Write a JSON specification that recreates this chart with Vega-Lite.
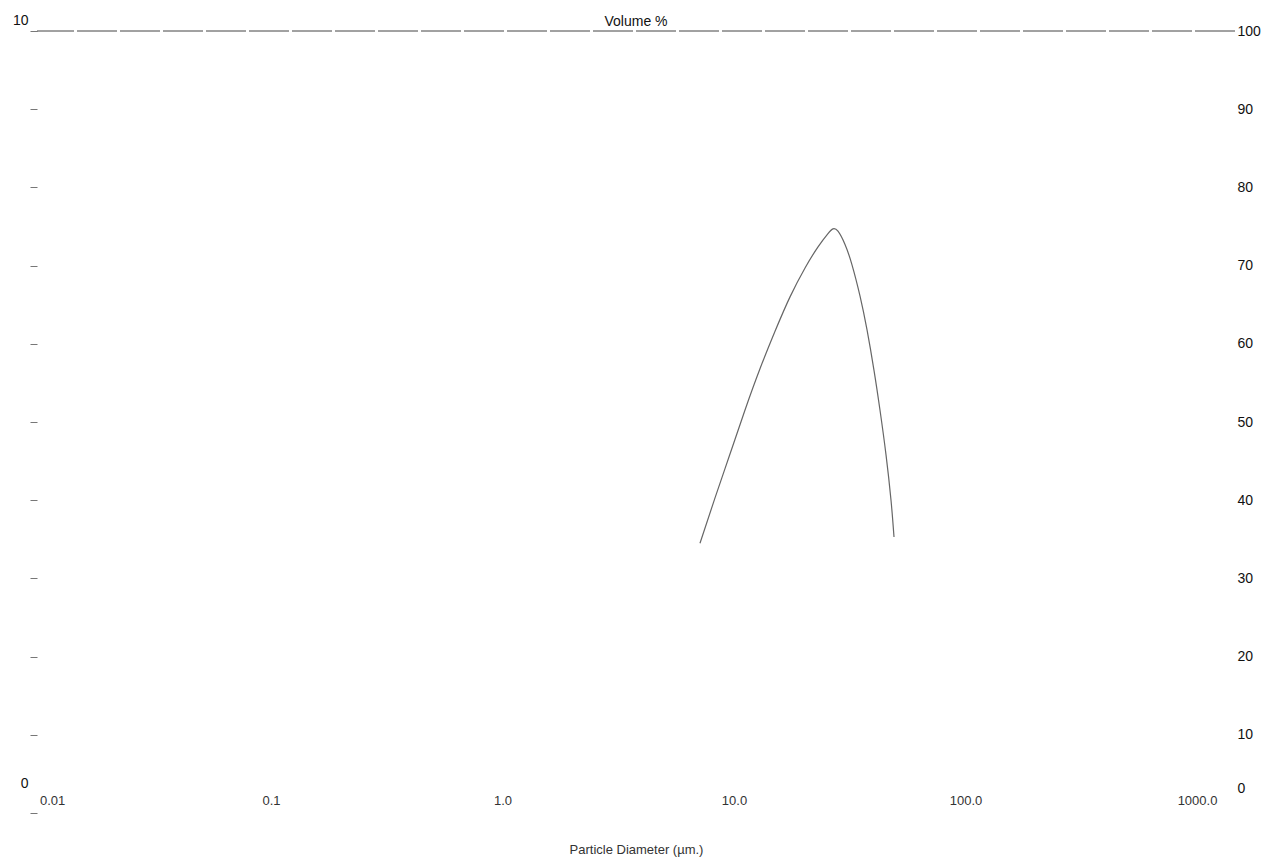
{
  "$schema": "https://vega.github.io/schema/vega-lite/v6.json",
  "width": 1198,
  "height": 782,
  "autosize": {"type": "none"},
  "padding": {"left": 37, "top": 31, "right": 32, "bottom": 49},
  "background": "white",
  "config": {"view": {"stroke": null}, "font": "Liberation Sans"},
  "title": {"text": "Volume %", "fontSize": 14, "fontWeight": "normal", "color": "#111", "anchor": "middle", "offset": -16, "font": "Liberation Sans"},
  "layer": [
    {
      "data": {"values": [
        {"d": 7.13, "v": 3.45},
        {"d": 8.28, "v": 4.03},
        {"d": 9.61, "v": 4.59},
        {"d": 11.15, "v": 5.15},
        {"d": 12.95, "v": 5.68},
        {"d": 15.04, "v": 6.16},
        {"d": 17.46, "v": 6.60},
        {"d": 20.27, "v": 6.97},
        {"d": 23.07, "v": 7.24},
        {"d": 25.47, "v": 7.41},
        {"d": 26.77, "v": 7.47},
        {"d": 28.13, "v": 7.44},
        {"d": 30.17, "v": 7.27},
        {"d": 32.34, "v": 7.01},
        {"d": 35.03, "v": 6.61},
        {"d": 37.54, "v": 6.18},
        {"d": 40.25, "v": 5.66},
        {"d": 42.73, "v": 5.15},
        {"d": 45.36, "v": 4.58},
        {"d": 47.67, "v": 4.00},
        {"d": 49.11, "v": 3.53}
      ]},
      "mark": {"type": "line", "color": "#666", "strokeWidth": 1.2, "interpolate": "natural"},
      "encoding": {
        "x": {
          "field": "d", "type": "quantitative",
          "scale": {"type": "log", "domain": [0.00976, 1459], "nice": false},
          "axis": {
            "values": [0.01, 0.1, 1, 10, 100, 1000],
            "labelExpr": "datum.value < 0.05 ? '0.01' : datum.value < 0.5 ? '0.1' : format(datum.value, '.1f')",
            "domain": false, "ticks": false, "grid": false, "labelFlush": 5,
            "labelPadding": -19, "labelFontSize": 13, "labelColor": "#333",
            "title": "Particle Diameter (µm.)", "titleFontSize": 13, "titleFontWeight": "normal",
            "titleColor": "#333", "titlePadding": 30
          }
        },
        "y": {
          "field": "v", "type": "quantitative",
          "scale": {"domain": [0, 10], "nice": false},
          "axis": {
            "orient": "left", "values": [0, 1, 2, 3, 4, 5, 6, 7, 8, 9, 10],
            "labelExpr": "datum.value == 10 || datum.value == 0 ? datum.label : ''",
            "domain": false, "grid": false, "tickSize": 7, "tickColor": "#777",
            "labelFontSize": 14, "labelColor": "#111", "labelPadding": 2,
            "labelBaseline": "middle",
            "labelOffset": {"condition": {"test": "datum.value == 0", "value": -30}, "value": -11},
            "title": null
          }
        }
      }
    },
    {
      "data": {"values": [{}]},
      "mark": {"type": "rule", "color": "#444", "strokeWidth": 1, "strokeDash": [40, 3]},
      "encoding": {
        "y": {
          "datum": 10, "type": "quantitative",
          "scale": {"domain": [0, 10], "nice": false},
          "axis": {
            "orient": "right", "values": [0, 1, 2, 3, 4, 5, 6, 7, 8, 9, 10],
            "labelExpr": "format(datum.value * 10, 'd')",
            "domain": false, "ticks": false, "grid": false,
            "labelFontSize": 14, "labelColor": "#111", "labelPadding": 2,
            "labelOffset": {"condition": {"test": "datum.value == 0", "value": -25}, "value": 0},
            "title": null
          }
        }
      }
    }
  ],
  "resolve": {"scale": {"y": "independent"}, "axis": {"y": "independent"}}
}
